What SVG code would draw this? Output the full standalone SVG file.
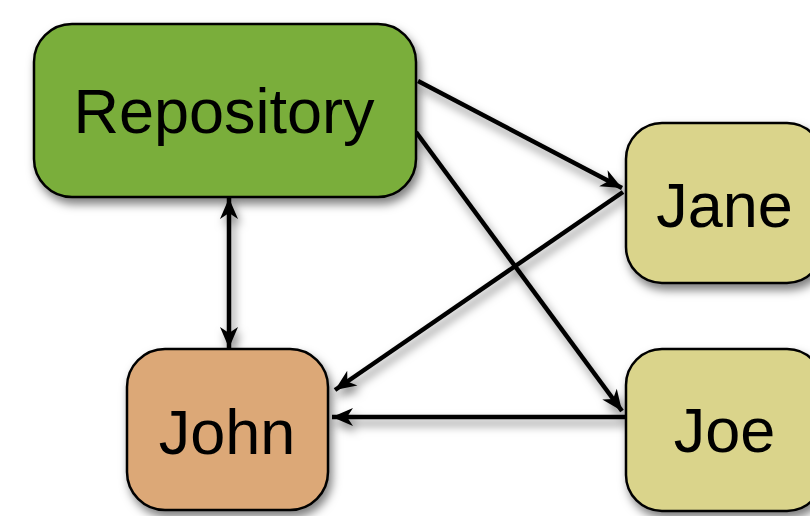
<svg xmlns="http://www.w3.org/2000/svg" width="810" height="516" viewBox="0 0 810 516">
<defs>
<filter id="sh" x="-20%" y="-20%" width="140%" height="140%">
<feDropShadow dx="3" dy="6" stdDeviation="5" flood-color="#000" flood-opacity="0.5"/>
</filter>
<marker id="ah" viewBox="-22 -10 24 20" markerWidth="24" markerHeight="20" refX="0" refY="0" orient="auto-start-reverse" markerUnits="userSpaceOnUse">
<path d="M0,0 L-21,-9 L-15,0 L-21,9 Z" fill="#000"/>
</marker>
</defs>
<style>
.box{stroke:#000;stroke-width:2.5}
.lbl{font-family:"Liberation Sans",Arial,sans-serif;font-size:63px;text-anchor:middle;fill:#000}
.ln{stroke:#000;stroke-width:4.5;fill:none}
</style>
<g id="connectors" filter="url(#sh)">
<line class="ln" x1="418" y1="81" x2="622" y2="188" marker-end="url(#ah)"/>
<line class="ln" x1="416" y1="132" x2="622" y2="411" marker-end="url(#ah)"/>
<line class="ln" x1="623" y1="192" x2="335" y2="390" marker-end="url(#ah)"/>
<line class="ln" x1="626" y1="417" x2="332" y2="417" marker-end="url(#ah)"/>
<line class="ln" x1="229" y1="198" x2="229" y2="348" marker-start="url(#ah)" marker-end="url(#ah)"/>
</g>
<g id="repository" filter="url(#sh)">
<rect class="box" x="34" y="24" width="382" height="173" rx="38" fill="#7AAE3B"/>
<text class="lbl" x="224" y="133">Repository</text>
</g>
<g id="jane" filter="url(#sh)">
<rect class="box" x="626" y="123" width="197" height="160" rx="36" fill="#DAD48B"/>
<text class="lbl" x="724.5" y="227">Jane</text>
</g>
<g id="john" filter="url(#sh)">
<rect class="box" x="127" y="349" width="201" height="161" rx="38" fill="#DCA877"/>
<text class="lbl" x="227" y="454">John</text>
</g>
<g id="joe" filter="url(#sh)">
<rect class="box" x="626" y="349" width="197" height="162" rx="36" fill="#DAD48B"/>
<text class="lbl" x="724.5" y="452">Joe</text>
</g>
</svg>
